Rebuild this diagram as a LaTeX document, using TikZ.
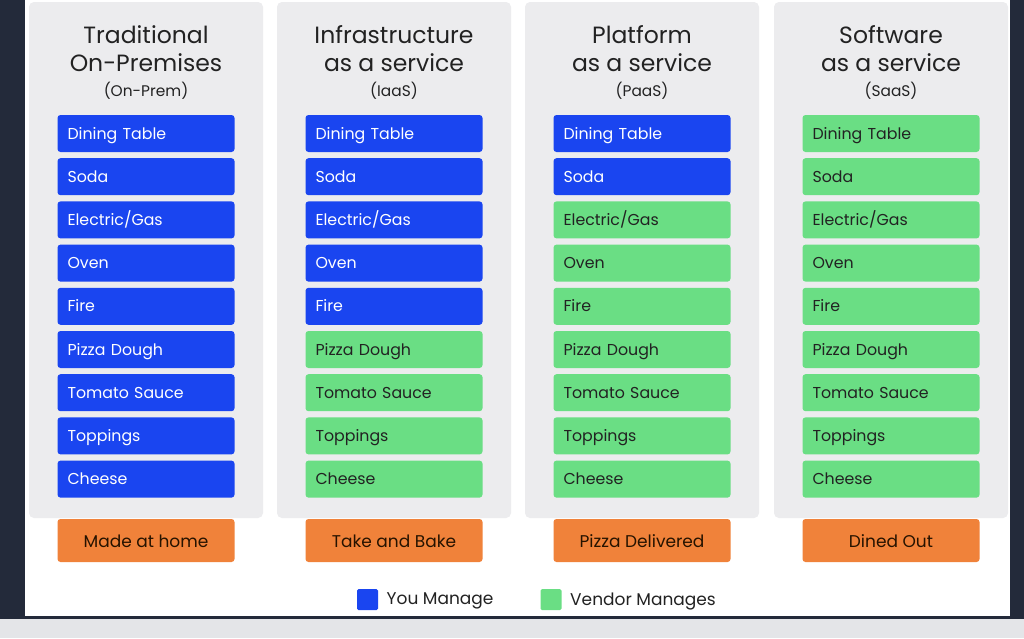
\documentclass[tikz,border=0pt]{standalone}
\usepackage{fontspec}
\setmainfont{Poppins}
\usetikzlibrary{positioning}

\definecolor{frame}{HTML}{232A3A}
\definecolor{strip}{HTML}{E4E5E8}
\definecolor{panelgray}{HTML}{ECECEE}
\definecolor{youblue}{HTML}{1A45F0}
\definecolor{vendgreen}{HTML}{6ADE84}
\definecolor{footorange}{HTML}{F0823A}
\definecolor{inkdark}{HTML}{222222}

\begin{document}
\begin{tikzpicture}[
        x=1pt,y=-1pt,
        panel/.style={
          fill=panelgray,rounded corners=5pt,minimum width=234pt,minimum height=516pt},
        item/.style={
          rounded corners=3pt,minimum width=177pt,minimum height=37pt,
          text width=157pt,text height=14pt,text depth=3pt,align=left,inner sep=0pt,
          font=\fontsize{15.8}{18}\selectfont},
        mine/.style={item,fill=youblue,text=white},
        theirs/.style={item,fill=vendgreen,text=inkdark},
        footer/.style={
          fill=footorange,rounded corners=3pt,minimum width=177pt,minimum height=43pt,
          text height=17pt,text depth=3pt,inner sep=0pt,
          text=black!85!orange,font=\fontsize{17}{20}\selectfont},
        title/.style={align=center,text=inkdark,font=\fontsize{23.5}{28}\selectfont},
        legendbox/.style={rounded corners=1.5pt,minimum size=21pt,inner sep=0pt},
        legendtext/.style={text=inkdark,yshift=-1.5pt,font=\fontsize{17}{20}\selectfont}]
      % page background
      \useasboundingbox (0,0) rectangle (1024,638);
      \fill[white] (0,0) rectangle (1024,638);
      \fill[strip] (0,617) rectangle (1024,638);
      \fill[frame] (0,0) rectangle (25,617);
      \fill[frame] (1010,0) rectangle (1024,617);
      \fill[frame] (0,615.5) rectangle (1024,618.5);
      % columns
      \foreach \c/\cx/\head/\abbr/\nmine/\foot in {
          1/146/{Traditional\\On-Premises}/On-Prem/9/Made at home,
          2/394/{Infrastructure\\as a service}/IaaS/5/Take and Bake,
          3/642/{Platform\\as a service}/PaaS/2/Pizza Delivered,
          4/891/{Software\\as a service}/SaaS/0/Dined Out}{
        \node[panel] (panel\c) at (\cx,260) {};
        \node[title] (head\c) at (\cx,49) {\head};
        \node[text=inkdark,font=\fontsize{15.4}{18}\selectfont] (abbr\c) at (\cx,91) {(\abbr)};
        \foreach \r/\what in {1/Dining Table,2/Soda,3/{Electric/Gas},4/Oven,5/Fire,
            6/Pizza Dough,7/Tomato Sauce,8/Toppings,9/Cheese}{
          \pgfmathsetmacro{\ry}{133.5+43.2*(\r-1)}
          \ifnum\r>\nmine
            \node[theirs] (item\c\r) at (\cx,\ry) {\what};
          \else
            \node[mine] (item\c\r) at (\cx,\ry) {\what};
          \fi
        }
        \node[footer] (foot\c) at (\cx,540.5) {\foot};
      }
      % legend
      \node[legendbox,fill=youblue] (keymine) at (367.5,599.5) {};
      \node[legendtext,right=5pt of keymine] (keyminetext) {You Manage};
      \node[legendbox,fill=vendgreen] (keytheirs) at (551,599.5) {};
      \node[legendtext,right=5pt of keytheirs] (keytheirstext) {Vendor Manages};
    \end{tikzpicture}
\end{document}
